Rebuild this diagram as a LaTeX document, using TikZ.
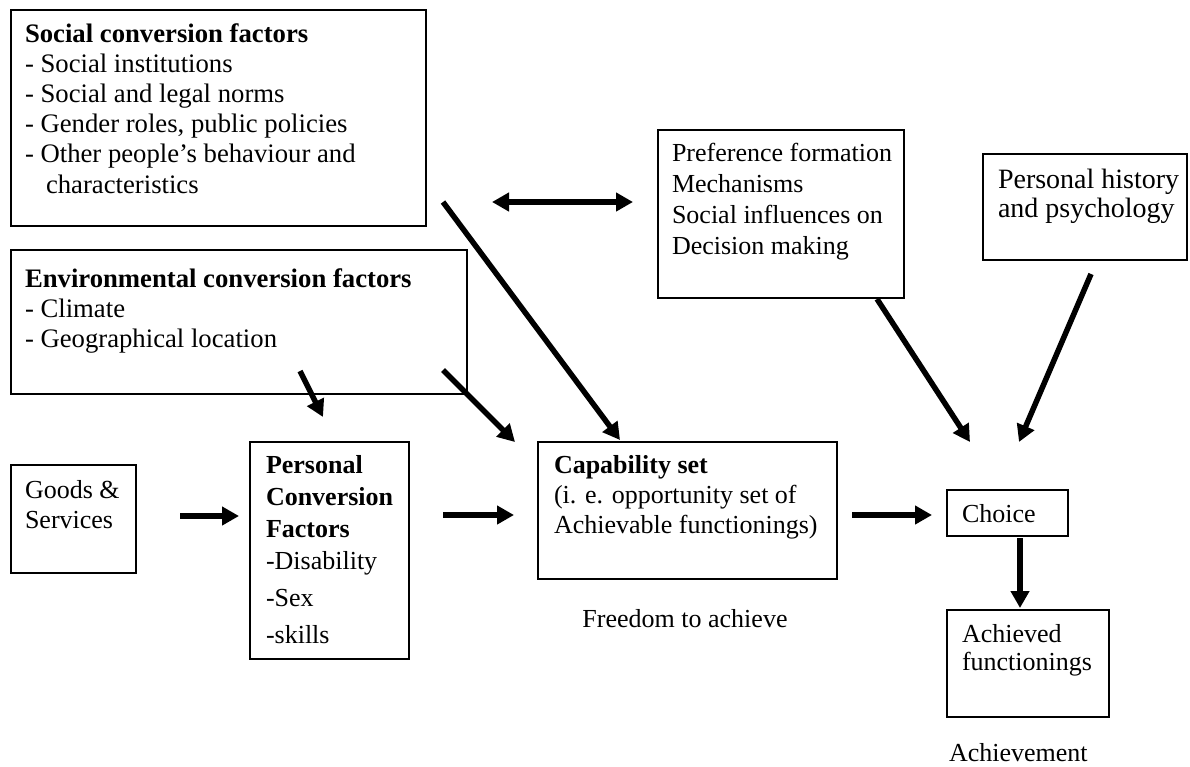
\documentclass[tikz,border=0pt]{standalone}
\usepackage{fontspec}
\setmainfont{Liberation Serif}
\usetikzlibrary{arrows.meta}
% fixed-height strut for the first line of each text block
\newcommand{\firstline}{\rule{0pt}{20pt}}
\begin{document}
\begin{tikzpicture}[x=1pt,y=-1pt,
  box/.style={draw, line width=1.6pt, inner sep=0pt, outer sep=0pt, anchor=north west},
  txt/.style={inner sep=0pt, outer sep=0pt, anchor=north west, align=left,
              font=\fontsize{26pt}{30.5pt}\selectfont},
  arr/.style={line width=5.5pt, -{Triangle[length=17pt,width=18pt]}},
  darr/.style={line width=5.5pt, {Triangle[length=17pt,width=18pt]}-{Triangle[length=17pt,width=18pt]}}]

\useasboundingbox (0,0) rectangle (1190,766);

% boxes
\node[box, minimum width=415pt, minimum height=216pt] (soc)    at (11,10)   {};
\node[box, minimum width=456pt, minimum height=144pt] (env)    at (11,250)  {};
\node[box, minimum width=246pt, minimum height=168pt] (pref)   at (658,130) {};
\node[box, minimum width=204pt, minimum height=106pt] (hist)   at (983,154) {};
\node[box, minimum width=125pt, minimum height=108pt] (goods)  at (11,465)  {};
\node[box, minimum width=159pt, minimum height=217pt] (pcf)    at (250,442) {};
\node[box, minimum width=299pt, minimum height=137pt] (cap)    at (538,442) {};
\node[box, minimum width=121pt, minimum height=46pt]  (choice) at (947,490) {};
\node[box, minimum width=162pt, minimum height=107pt] (ach)    at (947,610) {};

% texts
\node[txt, font=\fontsize{26.7pt}{30.2pt}\selectfont] (soc-t) at (25,22)
  {\firstline\textbf{Social conversion factors}\\
  - Social institutions\\
  - Social and legal norms\\
  - Gender roles, public policies\\
  - Other people’s behaviour and\\
  \hspace*{21pt}characteristics};
\node[txt, font=\fontsize{26.7pt}{30pt}\selectfont] (env-t) at (25,267)
  {\firstline\textbf{Environmental conversion factors}\\
  - Climate\\
  - Geographical location};
\node[txt, font=\fontsize{26pt}{31pt}\selectfont] (pref-t) at (672,141)
  {\firstline Preference formation\\
  Mechanisms\\
  Social influences on\\
  Decision making};
\node[txt, font=\fontsize{28pt}{29pt}\selectfont] (hist-t) at (998,168)
  {\firstline Personal history\\
  and psychology};
\node[txt, font=\fontsize{26pt}{30pt}\selectfont] (goods-t) at (25,478)
  {\firstline Goods \&\\
  Services};
\node[txt, font=\fontsize{26pt}{32pt}\selectfont] (pcf-t) at (266,453)
  {\firstline\textbf{Personal}\\
  \textbf{Conversion}\\
  \textbf{Factors}\\
  -Disability\\[5pt]
  -Sex\\[5pt]
  -skills};
\node[txt, font=\fontsize{26pt}{30pt}\selectfont] (cap-t) at (554,453)
  {\firstline\textbf{Capability set}\\
  (i. e. opportunity set of\\
  Achievable functionings)};
\node[txt] (choice-t) at (962,502) {\firstline Choice};
\node[txt, font=\fontsize{26pt}{28pt}\selectfont] (ach-t) at (962,622)
  {\firstline Achieved\\
  functionings};
\node[txt, anchor=base] (free-t) at (685,627) {Freedom to achieve};
\node[txt, anchor=base west] (achv-t) at (949,761) {Achievement};

% horizontal and vertical connectors
\draw[arr, shorten <=44pt, shorten >=11pt]
  ([yshift=3pt]goods.east) -- ([yshift=3pt]goods.east -| pcf.west);
\draw[arr, shorten <=34pt, shorten >=24pt]
  ([yshift=-4.5pt]cap.west -| pcf.east) -- ([yshift=-4.5pt]cap.west);
\draw[arr, shorten <=15pt, shorten >=15pt]
  ([yshift=-4.5pt]cap.east) -- ([yshift=-4.5pt]cap.east -| choice.west);
\draw[arr, shorten <=2pt, shorten >=2pt]
  ([xshift=12.5pt]choice.south) -- ([xshift=12.5pt]choice.south |- ach.north);
\draw[darr, shorten <=66pt, shorten >=25pt]
  ([yshift=12pt]pref.west -| soc.east) -- ([yshift=12pt]pref.west);

% diagonal connectors
\draw[arr] ([xshift=17pt,yshift=24pt]soc.south east) -- ([xshift=82pt,yshift=2pt]cap.north west);
\draw[arr] ([xshift=289pt,yshift=23pt]env.south west) -- ([xshift=73pt,yshift=25pt]pcf.north west);
\draw[arr] ([xshift=-24pt,yshift=24pt]env.south east) -- ([xshift=-23pt]cap.north west);
\draw[arr] ([xshift=-27pt,yshift=-1pt]pref.south east) -- ([xshift=23pt,yshift=48pt]choice.north west);
\draw[arr] ([xshift=6pt,yshift=-14pt]hist.south) -- ([xshift=72pt,yshift=48pt]choice.north west);
\end{tikzpicture}
\end{document}
